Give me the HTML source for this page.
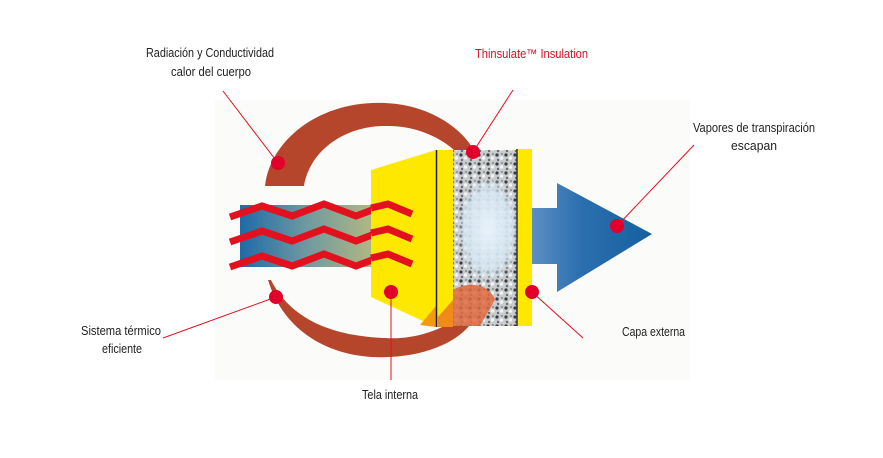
<!DOCTYPE html>
<html><head><meta charset="utf-8"><style>
html,body{margin:0;padding:0;background:#fff;}
svg{display:block;}
text{font-family:"Liberation Sans",sans-serif;font-size:12.5px;fill:#222;}
</style></head><body>
<svg width="883" height="458" viewBox="0 0 883 458" xmlns="http://www.w3.org/2000/svg">
<defs>
<linearGradient id="band" x1="0" x2="1" y1="0" y2="0">
<stop offset="0" stop-color="#1f6aa8"/><stop offset="0.5" stop-color="#6f9aa0"/><stop offset="1" stop-color="#b4b880"/>
</linearGradient>
<linearGradient id="arr" x1="0" x2="1" y1="0" y2="0">
<stop offset="0" stop-color="#5b8fc4"/><stop offset="0.4" stop-color="#2c6fae"/><stop offset="1" stop-color="#15609f"/>
</linearGradient>
<pattern id="ins" width="9" height="9" patternUnits="userSpaceOnUse">
<rect width="9" height="9" fill="#c8cbcf"/>
<circle cx="2" cy="2" r="1.6" fill="#3a3d40"/><circle cx="6.5" cy="5" r="1.8" fill="#f2f3f4"/>
<circle cx="3" cy="7" r="1.2" fill="#6a6d70"/><circle cx="7" cy="1" r="1" fill="#8a8d70"/>
</pattern>
<radialGradient id="glow" cx="0.55" cy="0.45" r="0.5">
<stop offset="0" stop-color="#e8f2fb"/><stop offset="0.7" stop-color="#d6e6f2" stop-opacity="0.9"/><stop offset="1" stop-color="#d6e6f2" stop-opacity="0"/>
</radialGradient>
</defs>
<rect x="215" y="100" width="475" height="280" fill="#fbfbfa"/>
<!-- top arc -->
<path d="M265,186 C270,140 320,100 385,103 C430,105 462,128 475,152 L462,158 C445,138 415,125 385,126 C345,126 310,150 304,186 Z" fill="#b5452b"/>
<!-- bottom arc -->
<path d="M268,280 C285,335 335,360 390,357 C430,355 460,340 472,322 L462,315 C440,332 410,340 385,338 C330,336 290,318 271,280 Z" fill="#b5452b"/>
<!-- blue band -->
<rect x="240" y="205" width="135" height="62" fill="url(#band)"/>
<!-- zigzags -->
<g fill="none" stroke="#e3101e" stroke-width="7" stroke-linejoin="miter">
<path d="M230,217 L262,206 L292,216 L324,204 L356,216 L388,204 L412,214"/>
<path d="M230,242 L262,231 L292,241 L324,229 L356,241 L388,229 L412,239"/>
<path d="M230,267 L262,256 L292,266 L324,254 L356,266 L388,254 L412,264"/>
</g>
<!-- inner yellow -->
<polygon points="371,170 436,150 436,327 371,297" fill="#ffe800"/>
<polygon points="420,325 436,306 436,327" fill="#f39a12"/>
<g fill="none" stroke="#e3101e" stroke-width="7">
<path d="M371,208 L388,204 L412,214"/><path d="M371,233 L388,229 L412,239"/><path d="M371,258 L388,254 L412,264"/>
</g>
<rect x="437" y="150" width="16" height="177" fill="#ffe800"/>
<line x1="436.5" y1="150" x2="436.5" y2="327" stroke="#222" stroke-width="1.5"/>
<polygon points="437,318 453,300 453,327 437,327" fill="#f08a1a"/>
<!-- insulation -->
<rect x="453" y="150" width="64" height="176" fill="url(#ins)"/>
<rect x="453" y="180" width="64" height="110" fill="url(#glow)"/>
<path d="M453,290 C470,280 490,285 495,300 L480,326 L453,326 Z" fill="#e06a40" opacity="0.85"/>
<!-- outer yellow -->
<rect x="517" y="149" width="15" height="177" fill="#ffe800"/>
<line x1="517" y1="149" x2="517" y2="326" stroke="#333" stroke-width="1.5"/>
<!-- arrow -->
<polygon points="532,208 557,208 557,183 652,234 557,292 557,264 532,264" fill="url(#arr)"/>
<!-- leader lines -->
<g stroke="#e3101e" stroke-width="1" fill="none">
<line x1="223" y1="91" x2="278" y2="163"/>
<line x1="513" y1="90" x2="473" y2="152"/>
<line x1="694" y1="145" x2="617" y2="226"/>
<line x1="163" y1="338" x2="276" y2="297"/>
<line x1="391" y1="292" x2="391" y2="380"/>
<line x1="532" y1="292" x2="583" y2="338"/>
</g>
<g fill="#e0002a">
<circle cx="278" cy="163" r="7"/><circle cx="473" cy="152" r="7"/><circle cx="617" cy="226" r="7"/>
<circle cx="276" cy="297" r="7"/><circle cx="391" cy="292" r="7"/><circle cx="532" cy="292" r="7"/>
</g>
<!-- labels -->
<text x="146" y="57" textLength="128" lengthAdjust="spacingAndGlyphs">Radiación y Conductividad</text>
<text x="171" y="76" textLength="80" lengthAdjust="spacingAndGlyphs">calor del cuerpo</text>
<text x="475" y="58" textLength="113" lengthAdjust="spacingAndGlyphs" style="fill:#d4102a">Thinsulate™ Insulation</text>
<text x="693" y="132" textLength="122" lengthAdjust="spacingAndGlyphs">Vapores de transpiración</text>
<text x="731" y="150" textLength="46" lengthAdjust="spacingAndGlyphs">escapan</text>
<text x="81" y="335" textLength="80" lengthAdjust="spacingAndGlyphs">Sistema térmico</text>
<text x="102" y="353" textLength="40" lengthAdjust="spacingAndGlyphs">eficiente</text>
<text x="362" y="399" textLength="56" lengthAdjust="spacingAndGlyphs">Tela interna</text>
<text x="622" y="336" textLength="63" lengthAdjust="spacingAndGlyphs">Capa externa</text>
</svg>
</body></html>
